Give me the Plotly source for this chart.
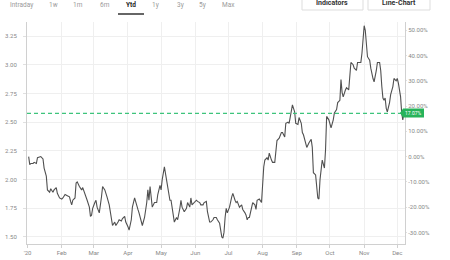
import plotly.graph_objects as go

dates = ["2020-01-02","2020-01-03","2020-01-04","2020-01-06","2020-01-07","2020-01-09","2020-01-10","2020-01-13","2020-01-15","2020-01-16",
"2020-01-18","2020-01-19","2020-01-21","2020-01-22","2020-01-24","2020-01-25","2020-01-27","2020-01-28","2020-01-30","2020-02-01",
"2020-02-02","2020-02-04","2020-02-06","2020-02-08","2020-02-09","2020-02-10","2020-02-11","2020-02-13","2020-02-14","2020-02-15",
"2020-02-17","2020-02-19","2020-02-20","2020-02-22","2020-02-23","2020-02-24","2020-02-26","2020-02-27","2020-02-28","2020-02-29",
"2020-03-02","2020-03-03","2020-03-04","2020-03-06","2020-03-08","2020-03-09","2020-03-11","2020-03-12","2020-03-13","2020-03-15",
"2020-03-17","2020-03-18","2020-03-20","2020-03-21","2020-03-23","2020-03-24","2020-03-26","2020-03-27","2020-03-29","2020-03-30",
"2020-04-01","2020-04-02","2020-04-04","2020-04-05","2020-04-07","2020-04-08","2020-04-10","2020-04-11","2020-04-13","2020-04-14",
"2020-04-16","2020-04-18","2020-04-19","2020-04-20","2020-04-21","2020-04-22","2020-04-23","2020-04-25","2020-04-27","2020-04-28",
"2020-04-30","2020-05-01","2020-05-02","2020-05-04","2020-05-06","2020-05-07","2020-05-09","2020-05-10","2020-05-11","2020-05-13",
"2020-05-15","2020-05-16","2020-05-18","2020-05-19","2020-05-20","2020-05-22","2020-05-24","2020-05-25","2020-05-27","2020-05-28",
"2020-05-29","2020-05-31","2020-06-02","2020-06-03","2020-06-05","2020-06-06","2020-06-08","2020-06-09","2020-06-11","2020-06-12",
"2020-06-14","2020-06-15","2020-06-17","2020-06-18","2020-06-20","2020-06-21","2020-06-23","2020-06-24","2020-06-25","2020-06-26",
"2020-06-27","2020-06-28","2020-06-29","2020-06-30","2020-07-02","2020-07-04","2020-07-05","2020-07-07","2020-07-08","2020-07-09",
"2020-07-11","2020-07-13","2020-07-14","2020-07-16","2020-07-17","2020-07-18","2020-07-19","2020-07-20","2020-07-22","2020-07-23",
"2020-07-25","2020-07-26","2020-07-27","2020-07-29","2020-07-31","2020-08-01","2020-08-02","2020-08-03","2020-08-05","2020-08-06",
"2020-08-07","2020-08-09","2020-08-10","2020-08-12","2020-08-13","2020-08-14","2020-08-16","2020-08-18","2020-08-19","2020-08-21",
"2020-08-22","2020-08-24","2020-08-25","2020-08-27","2020-08-28","2020-08-30","2020-08-31","2020-09-02","2020-09-03","2020-09-05",
"2020-09-06","2020-09-07","2020-09-09","2020-09-10","2020-09-12","2020-09-14","2020-09-15","2020-09-16","2020-09-18","2020-09-19",
"2020-09-20","2020-09-21","2020-09-22","2020-09-24","2020-09-25","2020-09-26","2020-09-27","2020-09-28","2020-09-30","2020-10-02",
"2020-10-04","2020-10-05","2020-10-07","2020-10-08","2020-10-10","2020-10-11","2020-10-12","2020-10-13","2020-10-15","2020-10-16",
"2020-10-18","2020-10-19","2020-10-20","2020-10-22","2020-10-23","2020-10-25","2020-10-26","2020-10-28","2020-10-29","2020-10-30",
"2020-10-31","2020-11-01","2020-11-02","2020-11-03","2020-11-04","2020-11-06","2020-11-07","2020-11-09","2020-11-10","2020-11-12",
"2020-11-13","2020-11-15","2020-11-16","2020-11-17","2020-11-18","2020-11-19","2020-11-20","2020-11-21","2020-11-22","2020-11-24",
"2020-11-25","2020-11-27","2020-11-28","2020-11-30","2020-12-01","2020-12-02","2020-12-04","2020-12-05","2020-12-06","2020-12-07"]

prices = [2.20,2.13,2.14,2.14,2.15,2.14,2.19,2.20,2.18,2.10,
2.03,1.91,1.89,1.92,1.89,1.91,1.93,1.88,1.84,1.83,
1.84,1.87,1.86,1.85,1.81,1.78,1.82,1.84,1.97,1.98,
1.94,1.91,1.93,1.88,1.84,1.82,1.76,1.68,1.69,1.75,
1.80,1.82,1.76,1.71,1.85,1.94,1.91,1.87,1.85,1.78,
1.65,1.60,1.63,1.60,1.63,1.65,1.64,1.66,1.68,1.63,
1.59,1.56,1.65,1.76,1.84,1.80,1.74,1.71,1.65,1.60,
1.67,1.80,1.91,1.82,1.94,1.84,1.76,1.80,1.80,1.87,
1.95,1.91,2.00,2.11,2.00,1.91,1.82,1.82,1.74,1.63,
1.67,1.65,1.75,1.82,1.76,1.72,1.75,1.80,1.76,1.84,
1.78,1.80,1.82,1.81,1.80,1.78,1.78,1.80,1.81,1.72,
1.63,1.63,1.65,1.67,1.67,1.65,1.62,1.56,1.50,1.49,
1.54,1.67,1.75,1.71,1.76,1.85,1.88,1.82,1.80,1.81,
1.76,1.78,1.74,1.71,1.69,1.65,1.67,1.67,1.74,1.80,
1.78,1.74,1.82,1.83,1.80,1.97,2.11,2.17,2.19,2.17,
2.23,2.17,2.15,2.15,2.23,2.34,2.36,2.41,2.41,2.37,
2.49,2.50,2.49,2.61,2.65,2.59,2.49,2.48,2.54,2.49,
2.41,2.39,2.33,2.28,2.32,2.35,2.28,2.06,2.04,1.94,
1.84,1.83,2.00,2.17,2.13,2.10,2.26,2.55,2.52,2.45,
2.52,2.58,2.61,2.67,2.69,2.87,2.76,2.72,2.78,2.80,
2.78,2.93,3.02,3.00,2.97,2.95,3.02,3.02,3.02,3.10,
3.24,3.34,3.30,3.19,3.07,3.04,2.97,2.88,2.85,2.95,
3.02,3.02,2.95,2.81,2.71,2.69,2.71,2.62,2.59,2.67,
2.74,2.81,2.88,2.86,2.88,2.84,2.72,2.58,2.52,2.576]

base_price = 2.20
last_pct_label = "17.07%"

month_ticks = ["2020-01-01","2020-02-01","2020-03-01","2020-04-01","2020-05-01","2020-06-01",
               "2020-07-01","2020-08-01","2020-09-01","2020-10-01","2020-11-01","2020-12-01"]
month_labels = ["'20","Feb","Mar","Apr","May","Jun","Jul","Aug","Sep","Oct","Nov","Dec"]
price_ticks = [1.50,1.75,2.00,2.25,2.50,2.75,3.00,3.25]
pct_ticks = [-0.30,-0.20,-0.10,0.0,0.10,0.20,0.30,0.40,0.50]

range_buttons = ["Intraday","1w","1m","6m","Ytd","1y","3y","5y","Max"]
top_buttons = ["Indicators","Line-Chart"]

W, H = 450, 260
L, R, T, B = 27, 405, 22, 244
y_lo, y_hi = 1.439, 3.372

def px_x(px):
    return (px - L) / (R - L)

def px_y(py):
    return (B - py) / (B - T)

fig = go.Figure()
fig.add_trace(go.Scatter(x=dates, y=prices, mode="lines",
                         line=dict(color="#505050", width=1.1), showlegend=False, hoverinfo="skip"))
fig.add_trace(go.Scatter(x=[dates[0]], y=[0], yaxis="y2", mode="markers",
                         marker=dict(opacity=0), showlegend=False, hoverinfo="skip"))

tickfont = dict(family="Roboto", size=6, color="#888888")

fig.update_layout(
    width=W, height=H,
    margin=dict(l=L, r=W - R, t=T, b=H - B),
    paper_bgcolor="white", plot_bgcolor="white",
    xaxis=dict(type="date", range=["2019-12-31 12:00", "2020-12-08"], automargin=False,
               tickvals=month_ticks, ticktext=month_labels, tickfont=tickfont,
               showgrid=True, gridcolor="#efefef", gridwidth=1,
               showline=True, linecolor="#d0d0d0", linewidth=1,
               ticks="outside", ticklen=3, tickcolor="#d0d0d0", zeroline=False),
    yaxis=dict(range=[y_lo, y_hi], tickvals=price_ticks, automargin=False,
               ticktext=[f"{v:.2f}" for v in price_ticks], tickfont=tickfont,
               showgrid=True, gridcolor="#efefef", showline=True, linecolor="#d0d0d0",
               ticks="outside", ticklen=3, tickcolor="#e0e0e0", ticklabelstandoff=5,
               zeroline=False),
    yaxis2=dict(overlaying="y", side="right", automargin=False,
                range=[y_lo / base_price - 1, y_hi / base_price - 1],
                tickvals=pct_ticks, ticktext=[f"{v*100:.2f}%" for v in pct_ticks],
                tickfont=tickfont, showgrid=False, showline=True, linecolor="#d0d0d0",
                ticks="outside", ticklen=1, tickcolor="#e0e0e0", zeroline=False),
)

last_price = prices[-1]
shapes = []
shapes.append(dict(type="line", xref="paper", yref="y", x0=0, x1=px_x(401),
                   y0=last_price, y1=last_price,
                   line=dict(color="#3ec47c", width=1.3, dash="4px,3px")))
ly = px_y(113)
th = 4.5 / (B - T)
shapes.append(dict(type="path", xref="paper", yref="paper",
                   path=f"M {px_x(400)} {ly} L {px_x(403)} {ly+th} L {px_x(424)} {ly+th} L {px_x(424)} {ly-th} L {px_x(403)} {ly-th} Z",
                   fillcolor="#27b35a", line=dict(width=0)))
for x0, x1 in [(302, 363), (368, 430)]:
    shapes.append(dict(type="rect", xref="paper", yref="paper",
                       x0=px_x(x0), x1=px_x(x1), y0=px_y(10), y1=px_y(-4),
                       line=dict(color="#dddddd", width=1), fillcolor="white", layer="above"))
shapes.append(dict(type="line", xref="paper", yref="paper", x0=px_x(118), x1=px_x(144),
                   y0=px_y(14), y1=px_y(14), line=dict(color="#333333", width=1.5)))
fig.update_layout(shapes=shapes)

ann = []
ann.append(dict(xref="paper", yref="paper", x=px_x(414), y=ly, text=last_pct_label, showarrow=False,
                font=dict(family="Roboto", size=5, color="white"), xanchor="center", yanchor="middle"))
btn_x = [21, 53, 78, 105, 131, 155, 180, 202, 228]
for label, bx in zip(range_buttons, btn_x):
    bold = label == "Ytd"
    ann.append(dict(xref="paper", yref="paper", x=px_x(bx), y=px_y(5),
                    text=f"<b>{label}</b>" if bold else label, showarrow=False,
                    font=dict(family="Roboto", size=6.5, color="#222222" if bold else "#9a9a9a"),
                    xanchor="center", yanchor="middle"))
for label, bx in zip(top_buttons, [332, 399]):
    ann.append(dict(xref="paper", yref="paper", x=px_x(bx), y=px_y(3),
                    text=f"<b>{label}</b>", showarrow=False,
                    font=dict(family="Roboto", size=7, color="#333333"),
                    xanchor="center", yanchor="middle"))
fig.update_layout(annotations=ann)

fig.write_html("out.html")
